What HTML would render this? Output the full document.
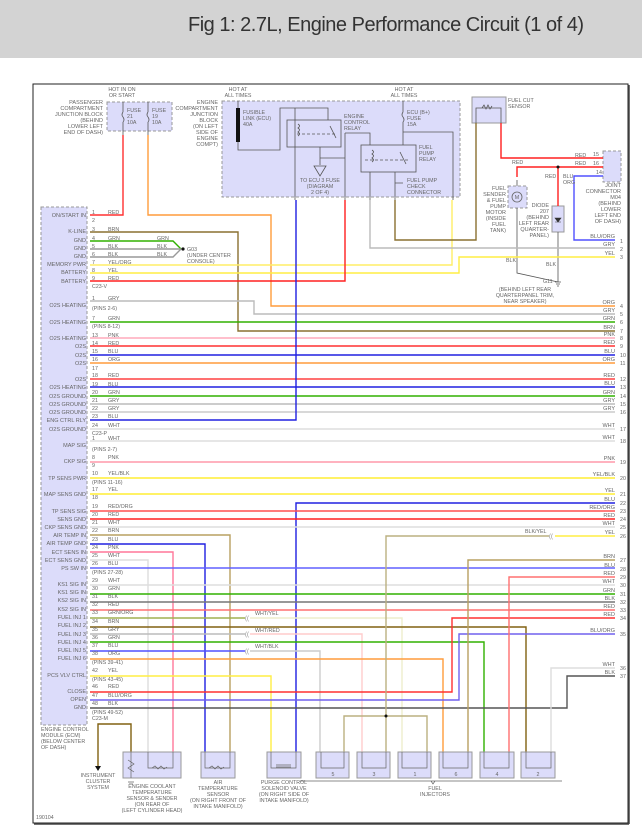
<!DOCTYPE html>
<html><head><meta charset="utf-8"><style>
html,body{margin:0;padding:0;background:#fff;width:642px;height:835px;overflow:hidden}
svg{display:block}
text{font-family:"Liberation Sans",sans-serif}
.t{font-size:5.3px;fill:#666}
.l{font-size:5.5px;fill:#666;text-anchor:end}
.c{font-size:5.3px;fill:#666;text-anchor:middle}
.w{fill:none;stroke-width:1.4}
</style></head><body>
<svg width="642" height="835" viewBox="0 0 642 835" xmlns="http://www.w3.org/2000/svg">
<rect x="0" y="0" width="642" height="58" fill="#d3d3d3"/>
<text x="188" y="31" font-size="20" fill="#333" textLength="396">Fig 1: 2.7L, Engine Performance Circuit (1 of 4)</text>
<rect x="33" y="84" width="595" height="739" fill="#fff" stroke="#222" stroke-width="1"/>
<line x1="629" y1="85" x2="629" y2="824" stroke="#444" stroke-width="1.5"/>
<line x1="34" y1="824" x2="629" y2="824" stroke="#444" stroke-width="1.5"/>

<!-- ECM box -->
<rect x="41" y="207" width="46" height="518" fill="#dcdcfa" stroke="#999" stroke-dasharray="3,2"/>
<!-- top boxes -->
<rect x="107" y="102" width="65" height="29" fill="#dcdcfa" stroke="#999" stroke-dasharray="3,2"/>
<rect x="222" y="101" width="238" height="96" fill="#dcdcfa" stroke="#999" stroke-dasharray="3,2"/>
<rect x="472" y="97" width="34" height="26" fill="#dcdcfa" stroke="#999"/>
<rect x="603" y="151" width="18" height="31" fill="#dcdcfa" stroke="#999" stroke-dasharray="3,2"/>
<rect x="508" y="186" width="19" height="22" fill="#dcdcfa" stroke="#999" stroke-dasharray="3,2"/>
<rect x="552" y="206" width="12" height="26" fill="#dcdcfa" stroke="#999"/>
<circle cx="517" cy="197" r="5" fill="none" stroke="#666" stroke-width="0.8"/><text x="517" y="199" class="c">M</text>
<path d="M555 218 L561 218 L558 222 Z M555 222 L561 222" fill="#333" stroke="#333" stroke-width="0.6"/>

<!-- fuses in passenger JB -->
<g stroke="#555" stroke-width="0.8" fill="none">
<path d="M123 102 V112 M123 112 q-2 3 0 5 q2 3 0 5 M123 122 V135"/>
<path d="M148 102 V112 M148 112 q-2 3 0 5 q2 3 0 5 M148 122 V135"/>
<!-- engine compt internals -->
<path d="M238 101 V108 M238 142 V150 H280 V108 H328 V120 M295 108 V120"/>
<rect x="287" y="120" width="54" height="27"/>
<rect x="361" y="145" width="55" height="27"/>
<path d="M295 120 V147 M320 147 V158 H345 M320 158 V165 M345 133 H370 V145 M345 133 V200 M295 147 V200 M370 172 V200 M395 172 V200 M395 183 H403 M403 101 V112 q-2 3 0 5 q2 3 0 5 V145 M403 132 H453 V200"/>
<path d="M314 166 L326 166 L320 176 Z"/>
<path d="M297 134 H335 M365 160 H410" stroke-dasharray="3,2"/>
<path d="M330 126 L336 138 M400 152 L406 164"/>
<path d="M298 124 q3 2 0 4 q3 2 0 4 q3 2 0 4 M372 150 q3 2 0 4 q3 2 0 4 q3 2 0 4"/>
<!-- sensors -->
<path d="M476 123 V108 H501 V123 M482 108 l2 -3 l2 4 l2 -4 l2 4 l2 -3"/>
<path d="M517 180 V186 M517 208 V233 M517 233 V273 L558 282 M558 232 V282 M555 282 h6 M556 284 h4 M557 286 h2"/>
</g>
<rect x="236" y="108" width="4" height="34" fill="#111"/>

<!-- wires -->
<g class="w">
<polyline stroke="#ff3030" points="90,215 123,215 123,135"/>
<polyline stroke="#ff9c3c" points="148,135 148,215 271,215 271,306 615,306"/>
<polyline stroke="#8a7030" points="90,232 238,232 238,331 615,331"/>
<polyline stroke="#30b000" points="90,241 173,241 181,249"/>
<polyline stroke="#999" points="90,249 181,249"/>
<polyline stroke="#999" points="90,257 173,257 181,249"/>
<polyline stroke="#ffee66" points="90,265 452,265 452,200"/>
<polyline stroke="#ffee44" points="90,273 459,273 459,257 615,257"/>
<polyline stroke="#ff2020" points="90,281 345,281 345,200"/>
<polyline stroke="#bbb" points="90,301 254,301 254,314 615,314"/>
<line stroke="#30b000" x1="90" y1="322" x2="615" y2="322"/>
<line stroke="#ffaabb" x1="90" y1="338" x2="615" y2="338"/>
<line stroke="#ff3030" x1="90" y1="346" x2="615" y2="346"/>
<line stroke="#2020e0" x1="90" y1="355" x2="615" y2="355"/>
<line stroke="#ff9c3c" x1="90" y1="363" x2="615" y2="363"/>
<line stroke="#ff4040" x1="90" y1="379" x2="615" y2="379"/>
<line stroke="#2020e0" x1="90" y1="387" x2="615" y2="387"/>
<line stroke="#30b000" x1="90" y1="396" x2="615" y2="396"/>
<line stroke="#bbb" x1="90" y1="404" x2="615" y2="404"/>
<line stroke="#ccc" x1="90" y1="412" x2="615" y2="412"/>
<polyline stroke="#2020e0" points="90,420 296,420 296,200"/>
<line stroke="#ddd" x1="90" y1="429" x2="615" y2="429"/>
<line stroke="#ddd" x1="90" y1="441" x2="615" y2="441"/>
<line stroke="#ff99aa" x1="90" y1="462" x2="615" y2="462"/>
<line stroke="#ffee33" x1="90" y1="478" x2="615" y2="478"/>
<line stroke="#ffee33" x1="90" y1="494" x2="615" y2="494"/>
<polyline stroke="#2020e0" points="615,503 296,503 296,752"/>
<line stroke="#ff5050" x1="90" y1="511" x2="615" y2="511"/>
<line stroke="#ff2020" x1="90" y1="519" x2="615" y2="519"/>
<line stroke="#ddd" x1="90" y1="527" x2="615" y2="527"/>
<polyline stroke="#b8a060" points="90,535 230,535 230,752"/>
<polyline stroke="#2020e0" points="90,544 205,544 205,752"/>
<polyline stroke="#ff7799" points="90,552 173,552 173,752"/>
<polyline stroke="#ddd" points="90,560 148,560 148,752"/>
<line stroke="#6060ff" x1="90" y1="568" x2="615" y2="568"/>
<line stroke="#ddd" x1="90" y1="585" x2="615" y2="585"/>
<line stroke="#30b000" x1="90" y1="594" x2="615" y2="594"/>
<line stroke="#777" x1="90" y1="602" x2="615" y2="602"/>
<line stroke="#ff7070" x1="90" y1="610" x2="615" y2="610"/>
<polyline stroke="#a0b050" points="90,618 245,618"/>
<polyline stroke="#eeeecc" points="250,618 402,618 402,752"/>
<polyline stroke="#806010" points="90,627 526,627 526,752"/>
<polyline stroke="#bbb" points="90,634 245,634"/>
<polyline stroke="#ffcccc" points="250,634 362,634 362,752"/>
<polyline stroke="#30b000" points="90,642 484,642 484,752"/>
<polyline stroke="#5050ff" points="90,651 245,651"/>
<polyline stroke="#ccc" points="250,651 320,651 320,752"/>
<polyline stroke="#ff9c3c" points="90,659 443,659 443,752"/>
<polyline stroke="#ffee44" points="90,676 271,676 271,752"/>
<polyline stroke="#ff3030" points="90,692 452,692 452,618 615,618"/>
<polyline stroke="#7060ee" points="90,700 459,700 459,634 615,634"/>
<polyline stroke="#555" points="90,708 567,708 567,676 615,676"/>
<polyline stroke="#b8a060" points="615,560 468,560 468,752"/>
<polyline stroke="#ff7070" points="615,577 509,577 509,752"/>
<polyline stroke="#ddd" points="615,668 551,668 551,752"/>
<polyline stroke="#ffee44" points="615,536 555,536"/>
<polyline stroke="#bbb080" points="549,536 386,536 386,752"/>
<polyline stroke="#bbb080" points="344,752 344,716 427,716 427,752"/>
<polyline stroke="#8a7030" points="476,123 476,240 395,240 395,200"/>
<polyline stroke="#bbb" points="370,200 370,248 615,248"/>
<polyline stroke="#ff2020" points="501,123 501,158 603,158"/>
<polyline stroke="#ff2020" points="517,177 517,167 603,167"/>
<polyline stroke="#ff2020" points="558,167 558,206"/>
<polyline stroke="#5050ff" points="603,176 574,176 574,240 615,240"/>
<polyline stroke="#806010" points="131,752 131,724 98,724 98,766"/>
</g>
<circle cx="183" cy="249" r="1.6" fill="#111"/>
<circle cx="558" cy="167" r="1.5" fill="#111"/>
<circle cx="386" cy="716" r="1.5" fill="#111"/>
<path d="M95 766 L101 766 L98 771 Z" fill="#111"/>
<g font-size="6" fill="#888"><text x="245" y="620">((</text><text x="245" y="636">((</text><text x="245" y="653">((</text><text x="549" y="538">((</text></g>

<!-- bottom components -->
<g fill="#dcdcfa" stroke="#999">
<rect x="123" y="752" width="58" height="26"/>
<rect x="201" y="752" width="34" height="26"/>
<rect x="267" y="752" width="34" height="26"/>
<rect x="316" y="752" width="33" height="26"/>
<rect x="357" y="752" width="33" height="26"/>
<rect x="398" y="752" width="33" height="26"/>
<rect x="439" y="752" width="33" height="26"/>
<rect x="480" y="752" width="34" height="26"/>
<rect x="521" y="752" width="34" height="26"/>
</g>
<g stroke="#666" stroke-width="0.7" fill="none">
<path d="M131 752 V778 M128 760 l6 4 l-6 4 l6 4 M128 782 h6 M129 784 h4"/>
<path d="M148 752 V768 H173 V752 M152 768 l3 -2 l3 3 l3 -3 l3 3 l3 -2"/>
<path d="M205 752 V768 H230 V752 M209 768 l3 -2 l3 3 l3 -3 l3 3 l3 -2"/>
<path d="M271 752 V768 H296 V752 M276 765 h15 M276 767 h15"/>
<path d="M321 752 V768 H344 V752 M362 752 V768 H386 V752 M402 752 V768 H427 V752 M443 752 V768 H468 V752 M484 752 V768 H509 V752 M526 752 V768 H551 V752"/>
<path d="M300 781 H562 M431 781 l2 3 l2 -3"/>
</g>
<g class="c"><text x="333" y="776">5</text><text x="374" y="776">3</text><text x="415" y="776">1</text><text x="456" y="776">6</text><text x="497" y="776">4</text><text x="538" y="776">2</text></g>

<!-- ECM labels -->
<g class="l">
<text x="86" y="217">ON/START IN</text><text x="86" y="233">K-LINE</text><text x="86" y="242">GND</text><text x="86" y="250">GND</text><text x="86" y="258">GND</text><text x="86" y="266">MEMORY PWR</text><text x="86" y="274">BATTERY</text><text x="86" y="283">BATTERY</text>
<text x="86" y="307">O2S HEATING</text><text x="86" y="324">O2S HEATING</text><text x="86" y="340">O2S HEATING</text><text x="86" y="348">O2S</text><text x="86" y="357">O2S</text><text x="86" y="365">O2S</text><text x="86" y="381">O2S</text><text x="86" y="389">O2S HEATING</text><text x="86" y="398">O2S GROUND</text><text x="86" y="406">O2S GROUND</text><text x="86" y="414">O2S GROUND</text><text x="86" y="422">ENG CTRL RLY</text><text x="86" y="431">O2S GROUND</text>
<text x="86" y="447">MAP SIG</text><text x="86" y="463">CKP SIG</text><text x="86" y="480">TP SENS PWR</text><text x="86" y="496">MAP SENS GND</text><text x="86" y="513">TP SENS SIG</text><text x="86" y="521">SENS GND</text><text x="86" y="529">CKP SENS GND</text><text x="86" y="537">AIR TEMP IN</text><text x="86" y="545">AIR TEMP GND</text><text x="86" y="554">ECT SENS IN</text><text x="86" y="562">ECT SENS GND</text><text x="86" y="570">PS SW IN</text><text x="86" y="586">KS1 SIG IN</text><text x="86" y="594">KS1 SIG IN</text><text x="86" y="602">KS2 SIG IN</text><text x="86" y="611">KS2 SIG IN</text><text x="86" y="619">FUEL INJ 1</text><text x="86" y="627">FUEL INJ 2</text><text x="86" y="636">FUEL INJ 3</text><text x="86" y="644">FUEL INJ 4</text><text x="86" y="652">FUEL INJ 5</text><text x="86" y="660">FUEL INJ 6</text><text x="86" y="677">PCS VLV CTRL</text><text x="86" y="693">CLOSE</text><text x="86" y="701">OPEN</text><text x="86" y="709">GND</text>
</g>
<!-- pin numbers & colors on ECM side -->
<g class="t">
<text x="92" y="214">1</text><text x="108" y="214">RED</text><text x="92" y="222">2</text><text x="92" y="231">3</text><text x="108" y="231">BRN</text><text x="92" y="240">4</text><text x="108" y="240">GRN</text><text x="157" y="240">GRN</text><text x="92" y="248">5</text><text x="108" y="248">BLK</text><text x="157" y="248">BLK</text><text x="92" y="256">6</text><text x="108" y="256">BLK</text><text x="157" y="256">BLK</text><text x="92" y="264">7</text><text x="108" y="264">YEL/ORG</text><text x="92" y="272">8</text><text x="108" y="272">YEL</text><text x="92" y="280">9</text><text x="108" y="280">RED</text><text x="92" y="288">C23-V</text>
<text x="92" y="300">1</text><text x="108" y="300">GRY</text><text x="92" y="310">(PINS 2-6)</text><text x="92" y="320">7</text><text x="108" y="320">GRN</text><text x="92" y="328">(PINS 8-12)</text><text x="92" y="337">13</text><text x="108" y="337">PNK</text><text x="92" y="345">14</text><text x="108" y="345">RED</text><text x="92" y="353">15</text><text x="108" y="353">BLU</text><text x="92" y="361">16</text><text x="108" y="361">ORG</text><text x="92" y="370">17</text><text x="92" y="377">18</text><text x="108" y="377">RED</text><text x="92" y="386">19</text><text x="108" y="386">BLU</text><text x="92" y="394">20</text><text x="108" y="394">GRN</text><text x="92" y="402">21</text><text x="108" y="402">GRY</text><text x="92" y="410">22</text><text x="108" y="410">GRY</text><text x="92" y="418">23</text><text x="108" y="418">BLU</text><text x="92" y="427">24</text><text x="108" y="427">WHT</text><text x="92" y="435">C23-P</text>
<text x="92" y="440">1</text><text x="108" y="440">WHT</text><text x="92" y="451">(PINS 2-7)</text><text x="92" y="459">8</text><text x="108" y="459">PNK</text><text x="92" y="467">9</text><text x="92" y="475">10</text><text x="108" y="475">YEL/BLK</text><text x="92" y="484">(PINS 11-16)</text><text x="92" y="491">17</text><text x="108" y="491">YEL</text><text x="92" y="499">18</text><text x="92" y="508">19</text><text x="108" y="508">RED/ORG</text><text x="92" y="516">20</text><text x="108" y="516">RED</text><text x="92" y="524">21</text><text x="108" y="524">WHT</text><text x="92" y="532">22</text><text x="108" y="532">BRN</text><text x="92" y="541">23</text><text x="108" y="541">BLU</text><text x="92" y="549">24</text><text x="108" y="549">PNK</text><text x="92" y="557">25</text><text x="108" y="557">WHT</text><text x="92" y="565">26</text><text x="108" y="565">BLU</text><text x="92" y="574">(PINS 27-28)</text><text x="92" y="582">29</text><text x="108" y="582">WHT</text><text x="92" y="590">30</text><text x="108" y="590">GRN</text><text x="92" y="598">31</text><text x="108" y="598">BLK</text><text x="92" y="606">32</text><text x="108" y="606">RED</text><text x="92" y="614">33</text><text x="108" y="614">GRN/ORG</text><text x="92" y="623">34</text><text x="108" y="623">BRN</text><text x="92" y="631">35</text><text x="108" y="631">GRY</text><text x="92" y="639">36</text><text x="108" y="639">GRN</text><text x="92" y="647">37</text><text x="108" y="647">BLU</text><text x="92" y="655">38</text><text x="108" y="655">ORG</text><text x="92" y="664">(PINS 39-41)</text><text x="92" y="672">42</text><text x="108" y="672">YEL</text><text x="92" y="681">(PINS 43-45)</text><text x="92" y="688">46</text><text x="108" y="688">RED</text><text x="92" y="697">47</text><text x="108" y="697">BLU/ORG</text><text x="92" y="705">48</text><text x="108" y="705">BLK</text><text x="92" y="714">(PINS 49-52)</text><text x="92" y="720">C23-M</text>
<text x="255" y="615">WHT/YEL</text><text x="255" y="632">WHT/RED</text><text x="255" y="648">WHT/BLK</text><text x="525" y="533">BLK/YEL</text>
<text x="187" y="251">G03</text><text x="187" y="257">(UNDER CENTER</text><text x="187" y="263">CONSOLE)</text>
<text x="243" y="114">FUSIBLE</text><text x="243" y="120">LINK (ECU)</text><text x="243" y="126">40A</text>
<text x="344" y="118">ENGINE</text><text x="344" y="124">CONTROL</text><text x="344" y="130">RELAY</text>
<text x="419" y="149">FUEL</text><text x="419" y="155">PUMP</text><text x="419" y="161">RELAY</text>
<text x="407" y="114">ECU (B+)</text><text x="407" y="120">FUSE</text><text x="407" y="126">15A</text>
<text x="407" y="182">FUEL PUMP</text><text x="407" y="188">CHECK</text><text x="407" y="194">CONNECTOR</text>
<text x="127" y="112">FUSE</text><text x="127" y="118">21</text><text x="127" y="124">10A</text>
<text x="152" y="112">FUSE</text><text x="152" y="118">19</text><text x="152" y="124">10A</text>
<text x="508" y="102">FUEL CUT</text><text x="508" y="108">SENSOR</text>
<text x="575" y="157">RED</text><text x="593" y="156">15</text><text x="575" y="165">RED</text><text x="593" y="165">16</text><text x="596" y="174">14</text>
<text x="512" y="164">RED</text><text x="545" y="178">RED</text><text x="563" y="178">BLU</text><text x="563" y="184">ORG</text>
<text x="506" y="262">BLK</text><text x="546" y="266">BLK</text><text x="543" y="283">G11</text>
<text x="36" y="819">190104</text>
<text x="41" y="731">ENGINE CONTROL</text><text x="41" y="737">MODULE (ECM)</text><text x="41" y="743">(BELOW CENTER</text><text x="41" y="749">OF DASH)</text>
</g>
<g class="c">
<text x="122" y="91">HOT IN ON</text><text x="122" y="97">OR START</text>
<text x="238" y="91">HOT AT</text><text x="238" y="97">ALL TIMES</text>
<text x="404" y="91">HOT AT</text><text x="404" y="97">ALL TIMES</text>
<text x="320" y="182">TO ECU 3 FUSE</text><text x="320" y="188">(DIAGRAM</text><text x="320" y="194">2 OF 4)</text>
<text x="525" y="291">(BEHIND LEFT REAR</text><text x="525" y="297">QUARTERPANEL TRIM,</text><text x="525" y="303">NEAR SPEAKER)</text>
<text x="98" y="777">INSTRUMENT</text><text x="98" y="783">CLUSTER</text><text x="98" y="789">SYSTEM</text>
<text x="152" y="788">ENGINE COOLANT</text><text x="152" y="794">TEMPERATURE</text><text x="152" y="800">SENSOR &amp; SENDER</text><text x="152" y="806">(ON REAR OF</text><text x="152" y="812">(LEFT CYLINDER HEAD)</text>
<text x="218" y="784">AIR</text><text x="218" y="790">TEMPERATURE</text><text x="218" y="796">SENSOR</text><text x="218" y="802">(ON RIGHT FRONT OF</text><text x="218" y="808">INTAKE MANIFOLD)</text>
<text x="284" y="784">PURGE CONTROL</text><text x="284" y="790">SOLENOID VALVE</text><text x="284" y="796">(ON RIGHT SIDE OF</text><text x="284" y="802">INTAKE MANIFOLD)</text>
<text x="435" y="790">FUEL</text><text x="435" y="796">INJECTORS</text>
</g>
<g class="l">
<text x="103" y="104">PASSENGER</text><text x="103" y="110">COMPARTMENT</text><text x="103" y="116">JUNCTION BLOCK</text><text x="103" y="122">(BEHIND</text><text x="103" y="128">LOWER LEFT</text><text x="103" y="134">END OF DASH)</text>
<text x="218" y="104">ENGINE</text><text x="218" y="110">COMPARTMENT</text><text x="218" y="116">JUNCTION</text><text x="218" y="122">BLOCK</text><text x="218" y="128">(ON LEFT</text><text x="218" y="134">SIDE OF</text><text x="218" y="140">ENGINE</text><text x="218" y="146">COMPT)</text>
<text x="621" y="187">JOINT</text><text x="621" y="193">CONNECTOR</text><text x="621" y="199">M04</text><text x="621" y="205">(BEHIND</text><text x="621" y="211">LOWER</text><text x="621" y="217">LEFT END</text><text x="621" y="223">OF DASH)</text>
<text x="506" y="190">FUEL</text><text x="506" y="196">SENDER</text><text x="506" y="202">&amp; FUEL</text><text x="506" y="208">PUMP</text><text x="506" y="214">MOTOR</text><text x="506" y="220">(INSIDE</text><text x="506" y="226">FUEL</text><text x="506" y="232">TANK)</text>
<text x="549" y="207">DIODE</text><text x="549" y="213">207</text><text x="549" y="219">(BEHIND</text><text x="549" y="225">LEFT REAR</text><text x="549" y="231">QUARTER-</text><text x="549" y="237">PANEL)</text>
<!-- right side colors -->
<text x="615" y="238">BLU/ORG</text><text x="615" y="246">GRY</text><text x="615" y="255">YEL</text><text x="615" y="304">ORG</text><text x="615" y="312">GRY</text><text x="615" y="320">GRN</text><text x="615" y="329">BRN</text><text x="615" y="336">PNK</text><text x="615" y="344">RED</text><text x="615" y="353">BLU</text><text x="615" y="361">ORG</text><text x="615" y="377">RED</text><text x="615" y="385">BLU</text><text x="615" y="394">GRN</text><text x="615" y="402">GRY</text><text x="615" y="410">GRY</text><text x="615" y="427">WHT</text><text x="615" y="439">WHT</text><text x="615" y="460">PNK</text><text x="615" y="476">YEL/BLK</text><text x="615" y="492">YEL</text><text x="615" y="501">BLU</text><text x="615" y="509">RED/ORG</text><text x="615" y="517">RED</text><text x="615" y="525">WHT</text><text x="615" y="534">YEL</text><text x="615" y="558">BRN</text><text x="615" y="567">BLU</text><text x="615" y="575">RED</text><text x="615" y="583">WHT</text><text x="615" y="592">GRN</text><text x="615" y="600">BLK</text><text x="615" y="608">RED</text><text x="615" y="616">RED</text><text x="615" y="632">BLU/ORG</text><text x="615" y="666">WHT</text><text x="615" y="674">BLK</text>
</g>
<g class="t">
<text x="620" y="243">1</text><text x="620" y="251">2</text><text x="620" y="259">3</text><text x="620" y="308">4</text><text x="620" y="316">5</text><text x="620" y="324">6</text><text x="620" y="333">7</text><text x="620" y="340">8</text><text x="620" y="348">9</text><text x="620" y="357">10</text><text x="620" y="365">11</text><text x="620" y="381">12</text><text x="620" y="389">13</text><text x="620" y="398">14</text><text x="620" y="406">15</text><text x="620" y="414">16</text><text x="620" y="431">17</text><text x="620" y="443">18</text><text x="620" y="464">19</text><text x="620" y="480">20</text><text x="620" y="496">21</text><text x="620" y="505">22</text><text x="620" y="513">23</text><text x="620" y="521">24</text><text x="620" y="529">25</text><text x="620" y="538">26</text><text x="620" y="562">27</text><text x="620" y="571">28</text><text x="620" y="579">29</text><text x="620" y="587">30</text><text x="620" y="596">31</text><text x="620" y="604">32</text><text x="620" y="612">33</text><text x="620" y="620">34</text><text x="620" y="636">35</text><text x="620" y="670">36</text><text x="620" y="678">37</text>
</g>
</svg>
</body></html>
